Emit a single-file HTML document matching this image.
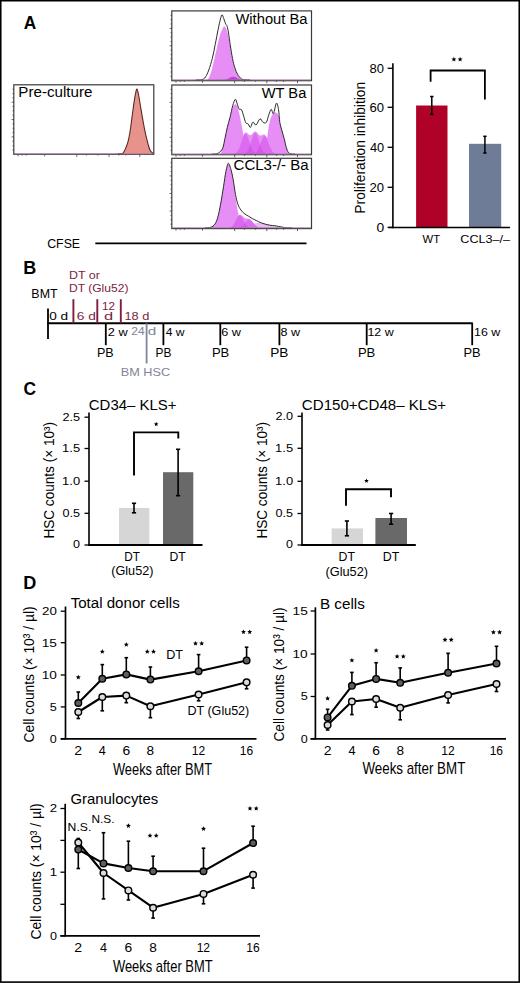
<!DOCTYPE html>
<html><head><meta charset="utf-8"><title>Figure</title>
<style>
html,body{margin:0;padding:0;background:#fff;}
body{width:520px;height:983px;overflow:hidden;}
svg{display:block;font-family:"Liberation Sans",sans-serif;}
</style></head>
<body>
<svg width="520" height="983" viewBox="0 0 520 983">
<rect x="0" y="0" width="520" height="983" fill="#fff"/>
<rect x="0.75" y="0.7" width="518.5" height="981.4" fill="none" stroke="#000" stroke-width="1.6"/>
<text x="23.67" y="29.00" font-size="18.02" textLength="12.49" lengthAdjust="spacingAndGlyphs" fill="#000" font-weight="bold">A</text>
<text x="23.29" y="273.70" font-size="18.31" textLength="13.03" lengthAdjust="spacingAndGlyphs" fill="#000" font-weight="bold">B</text>
<text x="23.48" y="394.60" font-size="19.19" textLength="12.59" lengthAdjust="spacingAndGlyphs" fill="#000" font-weight="bold">C</text>
<text x="23.19" y="588.60" font-size="19.19" textLength="13.07" lengthAdjust="spacingAndGlyphs" fill="#000" font-weight="bold">D</text>
<rect x="13.80" y="84.80" width="140.00" height="69.50" fill="none" stroke="#3a3a3a" stroke-width="1.2"/>
<line x1="12.50" y1="89.14" x2="13.80" y2="89.14" stroke="#3a3a3a" stroke-width="0.8"/>
<line x1="12.50" y1="93.49" x2="13.80" y2="93.49" stroke="#3a3a3a" stroke-width="0.8"/>
<line x1="12.50" y1="97.83" x2="13.80" y2="97.83" stroke="#3a3a3a" stroke-width="0.8"/>
<line x1="11.60" y1="102.17" x2="13.80" y2="102.17" stroke="#3a3a3a" stroke-width="0.8"/>
<line x1="12.50" y1="106.52" x2="13.80" y2="106.52" stroke="#3a3a3a" stroke-width="0.8"/>
<line x1="12.50" y1="110.86" x2="13.80" y2="110.86" stroke="#3a3a3a" stroke-width="0.8"/>
<line x1="12.50" y1="115.21" x2="13.80" y2="115.21" stroke="#3a3a3a" stroke-width="0.8"/>
<line x1="11.60" y1="119.55" x2="13.80" y2="119.55" stroke="#3a3a3a" stroke-width="0.8"/>
<line x1="12.50" y1="123.89" x2="13.80" y2="123.89" stroke="#3a3a3a" stroke-width="0.8"/>
<line x1="12.50" y1="128.24" x2="13.80" y2="128.24" stroke="#3a3a3a" stroke-width="0.8"/>
<line x1="12.50" y1="132.58" x2="13.80" y2="132.58" stroke="#3a3a3a" stroke-width="0.8"/>
<line x1="11.60" y1="136.93" x2="13.80" y2="136.93" stroke="#3a3a3a" stroke-width="0.8"/>
<line x1="12.50" y1="141.27" x2="13.80" y2="141.27" stroke="#3a3a3a" stroke-width="0.8"/>
<line x1="12.50" y1="145.61" x2="13.80" y2="145.61" stroke="#3a3a3a" stroke-width="0.8"/>
<line x1="12.50" y1="149.96" x2="13.80" y2="149.96" stroke="#3a3a3a" stroke-width="0.8"/>
<line x1="18.00" y1="154.30" x2="18.00" y2="156.30" stroke="#3a3a3a" stroke-width="0.8"/>
<line x1="22.20" y1="154.30" x2="22.20" y2="155.50" stroke="#3a3a3a" stroke-width="0.8"/>
<line x1="26.40" y1="154.30" x2="26.40" y2="155.50" stroke="#3a3a3a" stroke-width="0.8"/>
<line x1="44.60" y1="154.30" x2="44.60" y2="156.30" stroke="#3a3a3a" stroke-width="0.8"/>
<line x1="76.80" y1="154.30" x2="76.80" y2="156.80" stroke="#3a3a3a" stroke-width="0.8"/>
<line x1="109.00" y1="154.30" x2="109.00" y2="156.80" stroke="#3a3a3a" stroke-width="0.8"/>
<line x1="139.80" y1="154.30" x2="139.80" y2="156.80" stroke="#3a3a3a" stroke-width="0.8"/>
<line x1="97.80" y1="154.30" x2="97.80" y2="155.50" stroke="#3a3a3a" stroke-width="0.8"/>
<line x1="118.80" y1="154.30" x2="118.80" y2="155.50" stroke="#3a3a3a" stroke-width="0.8"/>
<line x1="125.80" y1="154.30" x2="125.80" y2="155.50" stroke="#3a3a3a" stroke-width="0.8"/>
<line x1="86.60" y1="154.30" x2="86.60" y2="155.50" stroke="#3a3a3a" stroke-width="0.8"/>
<text x="18.36" y="96.80" font-size="14.10" textLength="74.01" lengthAdjust="spacingAndGlyphs" fill="#000">Pre-culture</text>
<path d="M118.00,153.90 C118.50,153.87 120.15,153.83 121.00,153.70 C121.85,153.57 122.35,153.95 123.10,153.10 C123.85,152.25 124.70,150.42 125.50,148.60 C126.30,146.78 127.17,144.88 127.90,142.20 C128.63,139.52 129.28,136.15 129.90,132.50 C130.52,128.85 131.05,124.35 131.60,120.30 C132.15,116.25 132.67,111.97 133.20,108.20 C133.73,104.43 134.33,100.52 134.80,97.70 C135.27,94.88 135.63,92.75 136.00,91.30 C136.37,89.85 136.67,88.87 137.00,89.00 C137.33,89.13 137.63,90.52 138.00,92.10 C138.37,93.68 138.73,95.82 139.20,98.50 C139.67,101.18 140.18,104.57 140.80,108.20 C141.42,111.83 142.22,116.53 142.90,120.30 C143.58,124.07 144.23,127.57 144.90,130.80 C145.57,134.03 146.23,137.00 146.90,139.70 C147.57,142.40 148.30,145.12 148.90,147.00 C149.50,148.88 149.95,150.07 150.50,151.00 C151.05,151.93 151.73,152.12 152.20,152.60 C152.67,153.08 153.12,153.68 153.30,153.90" fill="#e8928c" stroke="none" stroke-width="0" stroke-linejoin="round"/>
<path d="M118.00,153.90 C118.50,153.87 120.15,153.83 121.00,153.70 C121.85,153.57 122.35,153.95 123.10,153.10 C123.85,152.25 124.70,150.42 125.50,148.60 C126.30,146.78 127.17,144.88 127.90,142.20 C128.63,139.52 129.28,136.15 129.90,132.50 C130.52,128.85 131.05,124.35 131.60,120.30 C132.15,116.25 132.67,111.97 133.20,108.20 C133.73,104.43 134.33,100.52 134.80,97.70 C135.27,94.88 135.63,92.75 136.00,91.30 C136.37,89.85 136.67,88.87 137.00,89.00 C137.33,89.13 137.63,90.52 138.00,92.10 C138.37,93.68 138.73,95.82 139.20,98.50 C139.67,101.18 140.18,104.57 140.80,108.20 C141.42,111.83 142.22,116.53 142.90,120.30 C143.58,124.07 144.23,127.57 144.90,130.80 C145.57,134.03 146.23,137.00 146.90,139.70 C147.57,142.40 148.30,145.12 148.90,147.00 C149.50,148.88 149.95,150.07 150.50,151.00 C151.05,151.93 151.73,152.12 152.20,152.60 C152.67,153.08 153.12,153.68 153.30,153.90" fill="none" stroke="#5a2a22" stroke-width="1.1" stroke-linejoin="round"/>
<line x1="14.30" y1="153.90" x2="153.30" y2="153.90" stroke="#a070a0" stroke-width="0.9"/>
<rect x="171.80" y="10.90" width="139.70" height="69.80" fill="none" stroke="#3a3a3a" stroke-width="1.2"/>
<line x1="170.50" y1="15.26" x2="171.80" y2="15.26" stroke="#3a3a3a" stroke-width="0.8"/>
<line x1="170.50" y1="19.62" x2="171.80" y2="19.62" stroke="#3a3a3a" stroke-width="0.8"/>
<line x1="170.50" y1="23.99" x2="171.80" y2="23.99" stroke="#3a3a3a" stroke-width="0.8"/>
<line x1="169.60" y1="28.35" x2="171.80" y2="28.35" stroke="#3a3a3a" stroke-width="0.8"/>
<line x1="170.50" y1="32.71" x2="171.80" y2="32.71" stroke="#3a3a3a" stroke-width="0.8"/>
<line x1="170.50" y1="37.07" x2="171.80" y2="37.07" stroke="#3a3a3a" stroke-width="0.8"/>
<line x1="170.50" y1="41.44" x2="171.80" y2="41.44" stroke="#3a3a3a" stroke-width="0.8"/>
<line x1="169.60" y1="45.80" x2="171.80" y2="45.80" stroke="#3a3a3a" stroke-width="0.8"/>
<line x1="170.50" y1="50.16" x2="171.80" y2="50.16" stroke="#3a3a3a" stroke-width="0.8"/>
<line x1="170.50" y1="54.52" x2="171.80" y2="54.52" stroke="#3a3a3a" stroke-width="0.8"/>
<line x1="170.50" y1="58.89" x2="171.80" y2="58.89" stroke="#3a3a3a" stroke-width="0.8"/>
<line x1="169.60" y1="63.25" x2="171.80" y2="63.25" stroke="#3a3a3a" stroke-width="0.8"/>
<line x1="170.50" y1="67.61" x2="171.80" y2="67.61" stroke="#3a3a3a" stroke-width="0.8"/>
<line x1="170.50" y1="71.97" x2="171.80" y2="71.97" stroke="#3a3a3a" stroke-width="0.8"/>
<line x1="170.50" y1="76.34" x2="171.80" y2="76.34" stroke="#3a3a3a" stroke-width="0.8"/>
<line x1="175.99" y1="80.70" x2="175.99" y2="82.70" stroke="#3a3a3a" stroke-width="0.8"/>
<line x1="180.18" y1="80.70" x2="180.18" y2="81.90" stroke="#3a3a3a" stroke-width="0.8"/>
<line x1="184.37" y1="80.70" x2="184.37" y2="81.90" stroke="#3a3a3a" stroke-width="0.8"/>
<line x1="202.53" y1="80.70" x2="202.53" y2="82.70" stroke="#3a3a3a" stroke-width="0.8"/>
<line x1="234.67" y1="80.70" x2="234.67" y2="83.20" stroke="#3a3a3a" stroke-width="0.8"/>
<line x1="266.80" y1="80.70" x2="266.80" y2="83.20" stroke="#3a3a3a" stroke-width="0.8"/>
<line x1="297.53" y1="80.70" x2="297.53" y2="83.20" stroke="#3a3a3a" stroke-width="0.8"/>
<line x1="255.62" y1="80.70" x2="255.62" y2="81.90" stroke="#3a3a3a" stroke-width="0.8"/>
<line x1="276.57" y1="80.70" x2="276.57" y2="81.90" stroke="#3a3a3a" stroke-width="0.8"/>
<line x1="283.56" y1="80.70" x2="283.56" y2="81.90" stroke="#3a3a3a" stroke-width="0.8"/>
<line x1="244.44" y1="80.70" x2="244.44" y2="81.90" stroke="#3a3a3a" stroke-width="0.8"/>
<path d="M205.00,79.90 C205.45,79.85 206.87,80.42 207.70,79.60 C208.53,78.78 209.23,76.98 210.00,75.00 C210.77,73.02 211.25,71.80 212.30,67.70 C213.35,63.60 215.05,55.78 216.30,50.40 C217.55,45.02 218.73,39.05 219.80,35.40 C220.87,31.75 221.98,30.03 222.70,28.50 C223.42,26.97 223.48,26.05 224.10,26.20 C224.72,26.35 225.58,27.30 226.40,29.40 C227.22,31.50 228.17,34.73 229.00,38.80 C229.83,42.87 230.47,48.98 231.40,53.80 C232.33,58.62 233.52,64.08 234.60,67.70 C235.68,71.32 236.80,73.57 237.90,75.50 C239.00,77.43 240.18,78.57 241.20,79.30 C242.22,80.03 243.53,79.80 244.00,79.90" fill="rgb(231,142,246)" stroke="none" stroke-width="0" stroke-linejoin="round"/>
<path d="M222.00,79.90 L222.00,79.88 L222.50,79.86 L223.00,79.85 L223.50,79.82 L224.00,79.78 L224.50,79.73 L225.00,79.67 L225.50,79.58 L226.00,79.47 L226.50,79.33 L227.00,79.16 L227.50,78.97 L228.00,78.75 L228.50,78.50 L229.00,78.23 L229.50,77.96 L230.00,77.68 L230.50,77.42 L231.00,77.18 L231.50,76.98 L232.00,76.83 L232.50,76.73 L233.00,76.70 L233.50,76.72 L234.00,76.80 L234.50,76.92 L235.00,77.08 L235.50,77.27 L236.00,77.48 L236.50,77.72 L237.00,77.96 L237.50,78.20 L238.00,78.43 L238.50,78.66 L239.00,78.86 L239.50,79.05 L240.00,79.21 L240.50,79.35 L241.00,79.47 L241.50,79.57 L242.00,79.65 L242.50,79.71 L243.00,79.76 L243.50,79.80 L244.00,79.83 L244.50,79.85 L245.00,79.86 L245.50,79.88 L246.00,79.88 L246.50,79.89 L247.00,79.89 L247.50,79.90 L248.00,79.90 L248.00,79.90 Z" fill="rgba(170,40,200,0.7)" stroke="none" stroke-width="0"/>
<path d="M196.00,79.90 C197.00,79.85 200.42,80.08 202.00,79.60 C203.58,79.12 204.37,78.60 205.50,77.00 C206.63,75.40 207.67,73.08 208.80,70.00 C209.93,66.92 211.23,62.73 212.30,58.50 C213.37,54.27 214.23,49.42 215.20,44.60 C216.17,39.78 217.23,33.83 218.10,29.60 C218.97,25.37 219.73,21.67 220.40,19.20 C221.07,16.73 221.53,14.88 222.10,14.80 C222.67,14.72 223.22,17.20 223.80,18.70 C224.38,20.20 225.05,22.55 225.60,23.80 C226.15,25.05 226.62,24.67 227.10,26.20 C227.58,27.73 227.98,29.93 228.50,33.00 C229.02,36.07 229.53,40.35 230.20,44.60 C230.87,48.85 231.73,54.65 232.50,58.50 C233.27,62.35 233.93,65.02 234.80,67.70 C235.67,70.38 236.63,72.77 237.70,74.60 C238.77,76.43 240.05,77.85 241.20,78.70 C242.35,79.55 243.13,79.50 244.60,79.70 C246.07,79.90 249.10,79.87 250.00,79.90" fill="none" stroke="#2a2a2a" stroke-width="1.0" stroke-linejoin="round"/>
<line x1="172.30" y1="79.90" x2="311.00" y2="79.90" stroke="#a070a0" stroke-width="0.9"/>
<text x="235.44" y="23.50" font-size="14.24" textLength="72.06" lengthAdjust="spacingAndGlyphs" fill="#000">Without Ba</text>
<rect x="171.80" y="85.00" width="139.70" height="69.70" fill="none" stroke="#3a3a3a" stroke-width="1.2"/>
<line x1="170.50" y1="89.36" x2="171.80" y2="89.36" stroke="#3a3a3a" stroke-width="0.8"/>
<line x1="170.50" y1="93.71" x2="171.80" y2="93.71" stroke="#3a3a3a" stroke-width="0.8"/>
<line x1="170.50" y1="98.07" x2="171.80" y2="98.07" stroke="#3a3a3a" stroke-width="0.8"/>
<line x1="169.60" y1="102.42" x2="171.80" y2="102.42" stroke="#3a3a3a" stroke-width="0.8"/>
<line x1="170.50" y1="106.78" x2="171.80" y2="106.78" stroke="#3a3a3a" stroke-width="0.8"/>
<line x1="170.50" y1="111.14" x2="171.80" y2="111.14" stroke="#3a3a3a" stroke-width="0.8"/>
<line x1="170.50" y1="115.49" x2="171.80" y2="115.49" stroke="#3a3a3a" stroke-width="0.8"/>
<line x1="169.60" y1="119.85" x2="171.80" y2="119.85" stroke="#3a3a3a" stroke-width="0.8"/>
<line x1="170.50" y1="124.21" x2="171.80" y2="124.21" stroke="#3a3a3a" stroke-width="0.8"/>
<line x1="170.50" y1="128.56" x2="171.80" y2="128.56" stroke="#3a3a3a" stroke-width="0.8"/>
<line x1="170.50" y1="132.92" x2="171.80" y2="132.92" stroke="#3a3a3a" stroke-width="0.8"/>
<line x1="169.60" y1="137.27" x2="171.80" y2="137.27" stroke="#3a3a3a" stroke-width="0.8"/>
<line x1="170.50" y1="141.63" x2="171.80" y2="141.63" stroke="#3a3a3a" stroke-width="0.8"/>
<line x1="170.50" y1="145.99" x2="171.80" y2="145.99" stroke="#3a3a3a" stroke-width="0.8"/>
<line x1="170.50" y1="150.34" x2="171.80" y2="150.34" stroke="#3a3a3a" stroke-width="0.8"/>
<line x1="175.99" y1="154.70" x2="175.99" y2="156.70" stroke="#3a3a3a" stroke-width="0.8"/>
<line x1="180.18" y1="154.70" x2="180.18" y2="155.90" stroke="#3a3a3a" stroke-width="0.8"/>
<line x1="184.37" y1="154.70" x2="184.37" y2="155.90" stroke="#3a3a3a" stroke-width="0.8"/>
<line x1="202.53" y1="154.70" x2="202.53" y2="156.70" stroke="#3a3a3a" stroke-width="0.8"/>
<line x1="234.67" y1="154.70" x2="234.67" y2="157.20" stroke="#3a3a3a" stroke-width="0.8"/>
<line x1="266.80" y1="154.70" x2="266.80" y2="157.20" stroke="#3a3a3a" stroke-width="0.8"/>
<line x1="297.53" y1="154.70" x2="297.53" y2="157.20" stroke="#3a3a3a" stroke-width="0.8"/>
<line x1="255.62" y1="154.70" x2="255.62" y2="155.90" stroke="#3a3a3a" stroke-width="0.8"/>
<line x1="276.57" y1="154.70" x2="276.57" y2="155.90" stroke="#3a3a3a" stroke-width="0.8"/>
<line x1="283.56" y1="154.70" x2="283.56" y2="155.90" stroke="#3a3a3a" stroke-width="0.8"/>
<line x1="244.44" y1="154.70" x2="244.44" y2="155.90" stroke="#3a3a3a" stroke-width="0.8"/>
<path d="M233.00,154.00 L233.00,153.87 L233.50,153.80 L234.00,153.71 L234.50,153.59 L235.00,153.41 L235.50,153.18 L236.00,152.88 L236.50,152.48 L237.00,151.98 L237.50,151.36 L238.00,150.61 L238.50,149.71 L239.00,148.66 L239.50,147.47 L240.00,146.13 L240.50,144.67 L241.00,143.12 L241.50,141.52 L242.00,139.91 L242.50,138.35 L243.00,136.88 L243.50,135.56 L244.00,134.44 L244.50,133.56 L245.00,132.93 L245.50,132.56 L246.00,132.45 L246.50,132.57 L247.00,132.87 L247.50,133.30 L248.00,133.80 L248.50,134.29 L249.00,134.73 L249.50,135.05 L250.00,135.21 L250.50,135.20 L251.00,135.00 L251.50,134.65 L252.00,134.16 L252.50,133.59 L253.00,132.99 L253.50,132.42 L254.00,131.94 L254.50,131.59 L255.00,131.41 L255.50,131.42 L256.00,131.61 L256.50,131.97 L257.00,132.46 L257.50,133.04 L258.00,133.65 L258.50,134.24 L259.00,134.76 L259.50,135.16 L260.00,135.42 L260.50,135.54 L261.00,135.51 L261.50,135.36 L262.00,135.13 L262.50,134.87 L263.00,134.63 L263.50,134.48 L264.00,134.46 L264.50,134.61 L265.00,134.97 L265.50,135.54 L266.00,136.33 L266.50,137.33 L267.00,138.49 L267.50,139.79 L268.00,141.18 L268.50,142.62 L269.00,144.05 L269.50,145.44 L270.00,146.76 L270.50,147.97 L271.00,149.06 L271.50,150.02 L272.00,150.84 L272.50,151.54 L273.00,152.11 L273.50,152.57 L274.00,152.94 L274.50,153.23 L275.00,153.44 L275.50,153.61 L276.00,153.73 L276.50,153.81 L277.00,153.87 L277.50,153.92 L278.00,153.95 L278.00,154.00 Z" fill="rgb(231,142,246)" stroke="none" stroke-width="0"/>
<path d="M219.00,154.00 C219.37,153.80 220.20,155.43 221.20,152.80 C222.20,150.17 223.98,142.43 225.00,138.20 C226.02,133.97 226.47,130.87 227.30,127.40 C228.13,123.93 229.10,120.72 230.00,117.40 C230.90,114.08 231.80,109.68 232.70,107.50 C233.60,105.32 234.60,104.38 235.40,104.30 C236.20,104.22 236.80,105.22 237.50,107.00 C238.20,108.78 238.87,111.73 239.60,115.00 C240.33,118.27 241.13,122.73 241.90,126.60 C242.67,130.47 243.30,134.73 244.20,138.20 C245.10,141.67 246.13,144.88 247.30,147.40 C248.47,149.92 250.25,152.20 251.20,153.30 C252.15,154.40 252.70,153.88 253.00,154.00" fill="rgb(231,142,246)" stroke="none" stroke-width="0" stroke-linejoin="round"/>
<path d="M262.00,154.00 C262.42,153.77 263.70,154.93 264.50,152.60 C265.30,150.27 266.13,144.10 266.80,140.00 C267.47,135.90 267.93,131.33 268.50,128.00 C269.07,124.67 269.62,122.17 270.20,120.00 C270.78,117.83 271.28,116.20 272.00,115.00 C272.72,113.80 273.83,113.20 274.50,112.80 C275.17,112.40 275.33,112.23 276.00,112.60 C276.67,112.97 277.87,113.38 278.50,115.00 C279.13,116.62 279.22,119.65 279.80,122.30 C280.38,124.95 281.27,128.17 282.00,130.90 C282.73,133.63 283.48,135.95 284.20,138.70 C284.92,141.45 285.58,145.08 286.30,147.40 C287.02,149.72 287.72,151.50 288.50,152.60 C289.28,153.70 290.58,153.77 291.00,154.00" fill="rgb(231,142,246)" stroke="none" stroke-width="0" stroke-linejoin="round"/>
<path d="M233.40,154.00 L233.40,153.82 L233.90,153.73 L234.40,153.62 L234.90,153.45 L235.40,153.23 L235.90,152.94 L236.40,152.57 L236.90,152.09 L237.40,151.50 L237.90,150.77 L238.40,149.91 L238.90,148.89 L239.40,147.72 L239.90,146.42 L240.40,144.99 L240.90,143.46 L241.40,141.88 L241.90,140.30 L242.40,138.75 L242.90,137.31 L243.40,136.03 L243.90,134.96 L244.40,134.16 L244.90,133.67 L245.40,133.50 L245.90,133.67 L246.40,134.16 L246.90,134.96 L247.40,136.03 L247.90,137.31 L248.40,138.75 L248.90,140.30 L249.40,141.88 L249.90,143.46 L250.40,144.99 L250.90,146.42 L251.40,147.72 L251.90,148.89 L252.40,149.91 L252.90,150.77 L253.40,151.50 L253.90,152.09 L254.40,152.57 L254.90,152.94 L255.40,153.23 L255.90,153.45 L256.40,153.62 L256.90,153.73 L257.40,153.82 L257.40,154.00 Z" fill="rgba(205,60,230,0.42)" stroke="none" stroke-width="0"/>
<path d="M243.20,154.00 L243.20,153.82 L243.70,153.73 L244.20,153.61 L244.70,153.45 L245.20,153.22 L245.70,152.93 L246.20,152.55 L246.70,152.07 L247.20,151.46 L247.70,150.73 L248.20,149.85 L248.70,148.81 L249.20,147.63 L249.70,146.31 L250.20,144.86 L250.70,143.31 L251.20,141.71 L251.70,140.09 L252.20,138.53 L252.70,137.06 L253.20,135.76 L253.70,134.68 L254.20,133.87 L254.70,133.37 L255.20,133.20 L255.70,133.37 L256.20,133.87 L256.70,134.68 L257.20,135.76 L257.70,137.06 L258.20,138.53 L258.70,140.09 L259.20,141.71 L259.70,143.31 L260.20,144.86 L260.70,146.31 L261.20,147.63 L261.70,148.81 L262.20,149.85 L262.70,150.73 L263.20,151.46 L263.70,152.07 L264.20,152.55 L264.70,152.93 L265.20,153.22 L265.70,153.45 L266.20,153.61 L266.70,153.73 L267.20,153.82 L267.20,154.00 Z" fill="rgba(205,60,230,0.42)" stroke="none" stroke-width="0"/>
<path d="M252.70,154.00 L252.70,153.84 L253.20,153.76 L253.70,153.66 L254.20,153.51 L254.70,153.32 L255.20,153.06 L255.70,152.73 L256.20,152.31 L256.70,151.78 L257.20,151.14 L257.70,150.36 L258.20,149.46 L258.70,148.43 L259.20,147.27 L259.70,146.00 L260.20,144.65 L260.70,143.24 L261.20,141.83 L261.70,140.46 L262.20,139.18 L262.70,138.04 L263.20,137.10 L263.70,136.39 L264.20,135.95 L264.70,135.80 L265.20,135.95 L265.70,136.39 L266.20,137.10 L266.70,138.04 L267.20,139.18 L267.70,140.46 L268.20,141.83 L268.70,143.24 L269.20,144.65 L269.70,146.00 L270.20,147.27 L270.70,148.43 L271.20,149.46 L271.70,150.36 L272.20,151.14 L272.70,151.78 L273.20,152.31 L273.70,152.73 L274.20,153.06 L274.70,153.32 L275.20,153.51 L275.70,153.66 L276.20,153.76 L276.70,153.84 L276.70,154.00 Z" fill="rgba(205,60,230,0.42)" stroke="none" stroke-width="0"/>
<path d="M212.00,154.00 C212.50,154.00 213.87,154.20 215.00,154.00 C216.13,153.80 217.52,153.77 218.80,152.80 C220.08,151.83 221.67,150.63 222.70,148.20 C223.73,145.77 224.23,141.67 225.00,138.20 C225.77,134.73 226.47,130.87 227.30,127.40 C228.13,123.93 229.10,121.00 230.00,117.40 C230.90,113.80 231.80,108.82 232.70,105.80 C233.60,102.78 234.63,99.55 235.40,99.30 C236.17,99.05 236.67,102.63 237.30,104.30 C237.93,105.97 238.50,108.40 239.20,109.30 C239.90,110.20 240.73,108.48 241.50,109.70 C242.27,110.92 243.08,114.42 243.80,116.60 C244.52,118.78 245.08,121.58 245.80,122.80 C246.52,124.02 247.33,123.13 248.10,123.90 C248.87,124.67 249.70,127.58 250.40,127.40 C251.10,127.22 251.78,123.65 252.30,122.80 C252.82,121.95 252.87,121.95 253.50,122.30 C254.13,122.65 255.02,125.48 256.10,124.90 C257.18,124.32 258.85,119.23 260.00,118.80 C261.15,118.37 261.93,121.72 263.00,122.30 C264.07,122.88 265.47,123.45 266.40,122.30 C267.33,121.15 267.80,117.57 268.60,115.40 C269.40,113.23 270.40,109.60 271.20,109.30 C272.00,109.00 272.53,114.62 273.40,113.60 C274.27,112.58 275.55,103.92 276.40,103.20 C277.25,102.48 277.93,106.12 278.50,109.30 C279.07,112.48 279.22,118.70 279.80,122.30 C280.38,125.90 281.27,128.17 282.00,130.90 C282.73,133.63 283.48,135.95 284.20,138.70 C284.92,141.45 285.58,145.08 286.30,147.40 C287.02,149.72 287.63,151.52 288.50,152.60 C289.37,153.68 290.42,153.67 291.50,153.90 C292.58,154.13 294.42,153.98 295.00,154.00" fill="none" stroke="#2a2a2a" stroke-width="1.0" stroke-linejoin="round"/>
<line x1="172.30" y1="154.00" x2="311.00" y2="154.00" stroke="#a070a0" stroke-width="0.9"/>
<text x="261.74" y="98.20" font-size="14.39" textLength="44.56" lengthAdjust="spacingAndGlyphs" fill="#000">WT Ba</text>
<rect x="171.80" y="158.30" width="139.70" height="70.30" fill="none" stroke="#3a3a3a" stroke-width="1.2"/>
<line x1="170.50" y1="162.69" x2="171.80" y2="162.69" stroke="#3a3a3a" stroke-width="0.8"/>
<line x1="170.50" y1="167.09" x2="171.80" y2="167.09" stroke="#3a3a3a" stroke-width="0.8"/>
<line x1="170.50" y1="171.48" x2="171.80" y2="171.48" stroke="#3a3a3a" stroke-width="0.8"/>
<line x1="169.60" y1="175.88" x2="171.80" y2="175.88" stroke="#3a3a3a" stroke-width="0.8"/>
<line x1="170.50" y1="180.27" x2="171.80" y2="180.27" stroke="#3a3a3a" stroke-width="0.8"/>
<line x1="170.50" y1="184.66" x2="171.80" y2="184.66" stroke="#3a3a3a" stroke-width="0.8"/>
<line x1="170.50" y1="189.06" x2="171.80" y2="189.06" stroke="#3a3a3a" stroke-width="0.8"/>
<line x1="169.60" y1="193.45" x2="171.80" y2="193.45" stroke="#3a3a3a" stroke-width="0.8"/>
<line x1="170.50" y1="197.84" x2="171.80" y2="197.84" stroke="#3a3a3a" stroke-width="0.8"/>
<line x1="170.50" y1="202.24" x2="171.80" y2="202.24" stroke="#3a3a3a" stroke-width="0.8"/>
<line x1="170.50" y1="206.63" x2="171.80" y2="206.63" stroke="#3a3a3a" stroke-width="0.8"/>
<line x1="169.60" y1="211.03" x2="171.80" y2="211.03" stroke="#3a3a3a" stroke-width="0.8"/>
<line x1="170.50" y1="215.42" x2="171.80" y2="215.42" stroke="#3a3a3a" stroke-width="0.8"/>
<line x1="170.50" y1="219.81" x2="171.80" y2="219.81" stroke="#3a3a3a" stroke-width="0.8"/>
<line x1="170.50" y1="224.21" x2="171.80" y2="224.21" stroke="#3a3a3a" stroke-width="0.8"/>
<line x1="175.99" y1="228.60" x2="175.99" y2="230.60" stroke="#3a3a3a" stroke-width="0.8"/>
<line x1="180.18" y1="228.60" x2="180.18" y2="229.80" stroke="#3a3a3a" stroke-width="0.8"/>
<line x1="184.37" y1="228.60" x2="184.37" y2="229.80" stroke="#3a3a3a" stroke-width="0.8"/>
<line x1="202.53" y1="228.60" x2="202.53" y2="230.60" stroke="#3a3a3a" stroke-width="0.8"/>
<line x1="234.67" y1="228.60" x2="234.67" y2="231.10" stroke="#3a3a3a" stroke-width="0.8"/>
<line x1="266.80" y1="228.60" x2="266.80" y2="231.10" stroke="#3a3a3a" stroke-width="0.8"/>
<line x1="297.53" y1="228.60" x2="297.53" y2="231.10" stroke="#3a3a3a" stroke-width="0.8"/>
<line x1="255.62" y1="228.60" x2="255.62" y2="229.80" stroke="#3a3a3a" stroke-width="0.8"/>
<line x1="276.57" y1="228.60" x2="276.57" y2="229.80" stroke="#3a3a3a" stroke-width="0.8"/>
<line x1="283.56" y1="228.60" x2="283.56" y2="229.80" stroke="#3a3a3a" stroke-width="0.8"/>
<line x1="244.44" y1="228.60" x2="244.44" y2="229.80" stroke="#3a3a3a" stroke-width="0.8"/>
<path d="M209.00,227.80 C209.33,227.70 210.03,227.78 211.00,227.20 C211.97,226.62 213.68,225.90 214.80,224.30 C215.92,222.70 216.73,220.95 217.70,217.60 C218.67,214.25 219.63,209.33 220.60,204.20 C221.57,199.07 222.62,192.25 223.50,186.80 C224.38,181.35 225.10,175.33 225.90,171.50 C226.70,167.67 227.50,164.23 228.30,163.80 C229.10,163.37 229.90,166.28 230.70,168.90 C231.50,171.52 232.30,174.90 233.10,179.50 C233.90,184.10 234.70,191.12 235.50,196.50 C236.30,201.88 237.02,207.32 237.90,211.80 C238.78,216.28 240.00,220.83 240.80,223.40 C241.60,225.97 242.17,226.47 242.70,227.20 C243.23,227.93 243.78,227.70 244.00,227.80" fill="rgb(231,142,246)" stroke="none" stroke-width="0" stroke-linejoin="round"/>
<path d="M229.00,227.80 L229.00,227.58 L229.50,227.48 L230.00,227.35 L230.50,227.17 L231.00,226.94 L231.50,226.64 L232.00,226.27 L232.50,225.81 L233.00,225.26 L233.50,224.61 L234.00,223.87 L234.50,223.03 L235.00,222.12 L235.50,221.14 L236.00,220.13 L236.50,219.12 L237.00,218.14 L237.50,217.22 L238.00,216.41 L238.50,215.73 L239.00,215.22 L239.50,214.87 L240.00,214.72 L240.50,214.73 L241.00,214.91 L241.50,215.22 L242.00,215.62 L242.50,216.09 L243.00,216.58 L243.50,217.04 L244.00,217.47 L244.50,217.82 L245.00,218.09 L245.50,218.28 L246.00,218.39 L246.50,218.45 L247.00,218.48 L247.50,218.50 L248.00,218.55 L248.50,218.65 L249.00,218.83 L249.50,219.07 L250.00,219.39 L250.50,219.77 L251.00,220.23 L251.50,220.74 L252.00,221.30 L252.50,221.89 L253.00,222.50 L253.50,223.11 L254.00,223.70 L254.50,224.27 L255.00,224.80 L255.50,225.29 L256.00,225.73 L256.50,226.11 L257.00,226.45 L257.50,226.73 L258.00,226.96 L258.50,227.16 L259.00,227.31 L259.50,227.44 L260.00,227.53 L260.50,227.60 L261.00,227.66 L261.50,227.70 L262.00,227.73 L262.00,227.80 Z" fill="rgb(231,142,246)" stroke="none" stroke-width="0"/>
<path d="M229.00,227.80 L229.00,227.58 L229.50,227.48 L230.00,227.35 L230.50,227.17 L231.00,226.94 L231.50,226.64 L232.00,226.27 L232.50,225.81 L233.00,225.26 L233.50,224.61 L234.00,223.87 L234.50,223.04 L235.00,222.13 L235.50,221.16 L236.00,220.16 L236.50,219.16 L237.00,218.20 L237.50,217.31 L238.00,216.54 L238.50,215.92 L239.00,215.48 L239.50,215.24 L240.00,215.22 L240.50,215.41 L241.00,215.81 L241.50,216.40 L242.00,217.14 L242.50,218.01 L243.00,218.96 L243.50,219.96 L244.00,220.96 L244.50,221.94 L245.00,222.86 L245.50,223.71 L246.00,224.47 L246.50,225.14 L247.00,225.71 L247.50,226.18 L248.00,226.57 L248.50,226.88 L249.00,227.13 L249.50,227.32 L250.00,227.46 L250.50,227.56 L251.00,227.64 L251.50,227.69 L252.00,227.73 L252.00,227.80 Z" fill="rgba(205,60,230,0.45)" stroke="none" stroke-width="0"/>
<path d="M238.00,227.80 L238.00,227.67 L238.50,227.62 L239.00,227.54 L239.50,227.44 L240.00,227.30 L240.50,227.12 L241.00,226.89 L241.50,226.62 L242.00,226.28 L242.50,225.88 L243.00,225.41 L243.50,224.89 L244.00,224.31 L244.50,223.68 L245.00,223.03 L245.50,222.37 L246.00,221.72 L246.50,221.12 L247.00,220.57 L247.50,220.12 L248.00,219.78 L248.50,219.57 L249.00,219.50 L249.50,219.56 L250.00,219.73 L250.50,220.01 L251.00,220.39 L251.50,220.85 L252.00,221.37 L252.50,221.93 L253.00,222.53 L253.50,223.12 L254.00,223.71 L254.50,224.28 L255.00,224.81 L255.50,225.29 L256.00,225.73 L256.50,226.11 L257.00,226.45 L257.50,226.73 L258.00,226.96 L258.50,227.16 L259.00,227.31 L259.50,227.44 L260.00,227.53 L260.50,227.60 L261.00,227.66 L261.50,227.70 L262.00,227.73 L262.00,227.80 Z" fill="rgba(205,60,230,0.4)" stroke="none" stroke-width="0"/>
<path d="M244.00,227.80 L244.00,227.47 L244.50,227.40 L245.00,227.32 L245.50,227.23 L246.00,227.12 L246.50,227.00 L247.00,226.87 L247.50,226.72 L248.00,226.55 L248.50,226.37 L249.00,226.18 L249.50,225.97 L250.00,225.74 L250.50,225.51 L251.00,225.27 L251.50,225.02 L252.00,224.77 L252.50,224.52 L253.00,224.27 L253.50,224.03 L254.00,223.80 L254.50,223.58 L255.00,223.39 L255.50,223.22 L256.00,223.07 L256.50,222.95 L257.00,222.87 L257.50,222.82 L258.00,222.80 L258.50,222.81 L259.00,222.82 L259.50,222.86 L260.00,222.90 L260.50,222.95 L261.00,223.02 L261.50,223.10 L262.00,223.18 L262.50,223.28 L263.00,223.39 L263.50,223.50 L264.00,223.62 L264.50,223.75 L265.00,223.89 L265.50,224.03 L266.00,224.17 L266.50,224.32 L267.00,224.47 L267.50,224.62 L268.00,224.77 L268.50,224.92 L269.00,225.07 L269.50,225.22 L270.00,225.37 L270.50,225.51 L271.00,225.65 L271.50,225.79 L272.00,225.92 L272.50,226.05 L273.00,226.18 L273.50,226.30 L274.00,226.41 L274.50,226.52 L275.00,226.62 L275.50,226.72 L276.00,226.81 L276.50,226.90 L277.00,226.98 L277.50,227.05 L278.00,227.12 L278.50,227.19 L279.00,227.25 L279.50,227.30 L280.00,227.36 L280.50,227.40 L281.00,227.44 L281.50,227.48 L282.00,227.52 L282.50,227.55 L283.00,227.58 L283.50,227.61 L284.00,227.63 L284.50,227.65 L285.00,227.67 L285.50,227.69 L286.00,227.70 L286.50,227.71 L287.00,227.73 L287.50,227.74 L288.00,227.74 L288.50,227.75 L289.00,227.76 L289.50,227.76 L290.00,227.77 L290.00,227.80 Z" fill="rgba(216,120,236,0.5)" stroke="none" stroke-width="0"/>
<path d="M205.00,227.80 C206.00,227.70 209.37,227.78 211.00,227.20 C212.63,226.62 213.68,225.90 214.80,224.30 C215.92,222.70 216.73,220.95 217.70,217.60 C218.67,214.25 219.63,209.33 220.60,204.20 C221.57,199.07 222.62,192.25 223.50,186.80 C224.38,181.35 225.10,175.42 225.90,171.50 C226.70,167.58 227.50,163.78 228.30,163.30 C229.10,162.82 229.90,165.95 230.70,168.60 C231.50,171.25 232.30,174.88 233.10,179.20 C233.90,183.52 234.70,190.33 235.50,194.50 C236.30,198.67 237.02,201.63 237.90,204.20 C238.78,206.77 239.68,208.30 240.80,209.90 C241.92,211.50 243.32,212.75 244.60,213.80 C245.88,214.85 247.22,215.40 248.50,216.20 C249.78,217.00 251.02,217.88 252.30,218.60 C253.58,219.32 254.67,219.77 256.20,220.50 C257.73,221.23 259.33,222.23 261.50,223.00 C263.67,223.77 266.95,224.63 269.20,225.10 C271.45,225.57 272.92,225.48 275.00,225.80 C277.08,226.12 279.78,226.67 281.70,227.00 C283.62,227.33 284.78,227.67 286.50,227.80 C288.22,227.93 291.08,227.80 292.00,227.80" fill="none" stroke="#2a2a2a" stroke-width="1.0" stroke-linejoin="round"/>
<line x1="172.30" y1="227.80" x2="311.00" y2="227.80" stroke="#a070a0" stroke-width="0.9"/>
<text x="233.54" y="169.70" font-size="13.81" textLength="75.16" lengthAdjust="spacingAndGlyphs" fill="#000">CCL3-/- Ba</text>
<text x="47.17" y="247.70" font-size="12.79" textLength="32.96" lengthAdjust="spacingAndGlyphs" fill="#000">CFSE</text>
<line x1="95.30" y1="243.40" x2="306.50" y2="243.40" stroke="#000" stroke-width="1.7"/>
<line x1="387.60" y1="227.40" x2="392.90" y2="227.40" stroke="#000" stroke-width="1.3"/>
<text x="376.46" y="231.80" font-size="12.79" textLength="7.68" lengthAdjust="spacingAndGlyphs" fill="#000">0</text>
<line x1="387.60" y1="187.30" x2="392.90" y2="187.30" stroke="#000" stroke-width="1.3"/>
<text x="369.54" y="191.70" font-size="12.79" textLength="14.57" lengthAdjust="spacingAndGlyphs" fill="#000">20</text>
<line x1="387.60" y1="147.30" x2="392.90" y2="147.30" stroke="#000" stroke-width="1.3"/>
<text x="369.91" y="151.70" font-size="12.79" textLength="14.19" lengthAdjust="spacingAndGlyphs" fill="#000">40</text>
<line x1="387.60" y1="107.30" x2="392.90" y2="107.30" stroke="#000" stroke-width="1.3"/>
<text x="369.53" y="111.70" font-size="12.79" textLength="14.58" lengthAdjust="spacingAndGlyphs" fill="#000">60</text>
<line x1="387.60" y1="68.30" x2="392.90" y2="68.30" stroke="#000" stroke-width="1.3"/>
<text x="369.63" y="72.70" font-size="12.79" textLength="14.47" lengthAdjust="spacingAndGlyphs" fill="#000">80</text>
<rect x="416.10" y="105.50" width="31.40" height="121.80" fill="#b00228"/>
<rect x="469.00" y="143.80" width="32.20" height="83.50" fill="#6e7c98"/>
<line x1="392.90" y1="63.20" x2="392.90" y2="228.20" stroke="#000" stroke-width="1.6"/>
<line x1="388.50" y1="227.50" x2="510.00" y2="227.50" stroke="#000" stroke-width="1.7"/>
<line x1="431.80" y1="96.50" x2="431.80" y2="114.40" stroke="#000" stroke-width="1.5"/>
<line x1="430.10" y1="96.50" x2="433.50" y2="96.50" stroke="#000" stroke-width="1.5"/>
<line x1="430.10" y1="114.40" x2="433.50" y2="114.40" stroke="#000" stroke-width="1.5"/>
<line x1="484.90" y1="136.30" x2="484.90" y2="153.00" stroke="#000" stroke-width="1.5"/>
<line x1="483.20" y1="136.30" x2="486.60" y2="136.30" stroke="#000" stroke-width="1.5"/>
<line x1="483.20" y1="153.00" x2="486.60" y2="153.00" stroke="#000" stroke-width="1.5"/>
<polyline points="430.60,81.70 430.60,70.50 484.90,70.50 484.90,99.50" stroke="#000" stroke-width="1.8" fill="none" />
<polygon points="453.90,56.80 454.59,58.45 456.37,58.60 455.01,59.76 455.43,61.50 453.90,60.57 452.37,61.50 452.79,59.76 451.43,58.60 453.21,58.45" fill="#000"/>
<polygon points="460.10,56.80 460.79,58.45 462.57,58.60 461.21,59.76 461.63,61.50 460.10,60.57 458.57,61.50 458.99,59.76 457.63,58.60 459.41,58.45" fill="#000"/>
<text x="422.55" y="242.90" font-size="10.90" textLength="17.51" lengthAdjust="spacingAndGlyphs" fill="#000">WT</text>
<text x="460.36" y="242.90" font-size="10.90" textLength="49.64" lengthAdjust="spacingAndGlyphs" fill="#000">CCL3–/–</text>
<text transform="translate(364.60,212.50) rotate(-90)" x="-1.13" y="0" font-size="14.54" textLength="131.72" lengthAdjust="spacingAndGlyphs" fill="#000">Proliferation inhibition</text>
<text x="31.38" y="297.70" font-size="12.35" textLength="26.20" lengthAdjust="spacingAndGlyphs" fill="#000">BMT</text>
<text x="68.99" y="278.60" font-size="11.77" textLength="30.92" lengthAdjust="spacingAndGlyphs" fill="#7e1d3e">DT or</text>
<text x="69.01" y="291.80" font-size="11.77" textLength="59.43" lengthAdjust="spacingAndGlyphs" fill="#7e1d3e">DT (Glu52)</text>
<line x1="48.00" y1="308.40" x2="48.00" y2="339.00" stroke="#000" stroke-width="1.8"/>
<line x1="47.20" y1="323.30" x2="472.80" y2="323.30" stroke="#000" stroke-width="1.9"/>
<line x1="73.40" y1="299.20" x2="73.40" y2="323.30" stroke="#7e1d3e" stroke-width="1.9"/>
<line x1="97.30" y1="299.20" x2="97.30" y2="323.30" stroke="#7e1d3e" stroke-width="1.9"/>
<line x1="120.80" y1="299.20" x2="120.80" y2="323.30" stroke="#7e1d3e" stroke-width="1.9"/>
<text x="49.17" y="320.40" font-size="11.77" textLength="18.91" lengthAdjust="spacingAndGlyphs" fill="#000">0 d</text>
<text x="76.70" y="320.40" font-size="11.77" textLength="19.08" lengthAdjust="spacingAndGlyphs" fill="#7e1d3e">6 d</text>
<text x="101.91" y="310.00" font-size="11.77" textLength="12.98" lengthAdjust="spacingAndGlyphs" fill="#7e1d3e">12</text>
<text x="103.91" y="320.40" font-size="11.77" textLength="9.15" lengthAdjust="spacingAndGlyphs" fill="#7e1d3e">d</text>
<text x="124.43" y="320.40" font-size="11.77" textLength="24.90" lengthAdjust="spacingAndGlyphs" fill="#7e1d3e">18 d</text>
<line x1="146.60" y1="323.30" x2="146.60" y2="363.50" stroke="#7f8499" stroke-width="1.8"/>
<text x="131.30" y="335.40" font-size="11.77" textLength="13.36" lengthAdjust="spacingAndGlyphs" fill="#7f8499">24</text>
<text x="147.86" y="335.40" font-size="11.77" textLength="8.53" lengthAdjust="spacingAndGlyphs" fill="#7f8499">d</text>
<text x="120.76" y="376.40" font-size="11.77" textLength="49.32" lengthAdjust="spacingAndGlyphs" fill="#7f8499">BM HSC</text>
<line x1="105.80" y1="323.30" x2="105.80" y2="345.20" stroke="#000" stroke-width="1.8"/>
<text x="107.86" y="335.70" font-size="11.77" textLength="19.81" lengthAdjust="spacingAndGlyphs" fill="#000">2 w</text>
<text x="96.97" y="357.40" font-size="12.06" textLength="16.69" lengthAdjust="spacingAndGlyphs" fill="#000">PB</text>
<line x1="163.40" y1="323.30" x2="163.40" y2="345.20" stroke="#000" stroke-width="1.8"/>
<text x="165.72" y="335.70" font-size="11.77" textLength="18.85" lengthAdjust="spacingAndGlyphs" fill="#000">4 w</text>
<text x="155.52" y="357.40" font-size="12.06" textLength="15.91" lengthAdjust="spacingAndGlyphs" fill="#000">PB</text>
<line x1="220.30" y1="323.30" x2="220.30" y2="345.20" stroke="#000" stroke-width="1.8"/>
<text x="221.26" y="335.70" font-size="11.77" textLength="19.71" lengthAdjust="spacingAndGlyphs" fill="#000">6 w</text>
<text x="211.93" y="357.40" font-size="12.06" textLength="17.35" lengthAdjust="spacingAndGlyphs" fill="#000">PB</text>
<line x1="279.40" y1="323.30" x2="279.40" y2="345.20" stroke="#000" stroke-width="1.8"/>
<text x="280.46" y="335.70" font-size="11.77" textLength="19.51" lengthAdjust="spacingAndGlyphs" fill="#000">8 w</text>
<text x="270.29" y="357.40" font-size="12.06" textLength="18.13" lengthAdjust="spacingAndGlyphs" fill="#000">PB</text>
<line x1="366.70" y1="323.30" x2="366.70" y2="345.20" stroke="#000" stroke-width="1.8"/>
<text x="367.45" y="335.70" font-size="11.77" textLength="26.22" lengthAdjust="spacingAndGlyphs" fill="#000">12 w</text>
<text x="357.93" y="357.40" font-size="12.06" textLength="17.35" lengthAdjust="spacingAndGlyphs" fill="#000">PB</text>
<line x1="472.20" y1="323.30" x2="472.20" y2="345.20" stroke="#000" stroke-width="1.8"/>
<text x="474.05" y="335.70" font-size="11.77" textLength="26.22" lengthAdjust="spacingAndGlyphs" fill="#000">16 w</text>
<text x="463.55" y="357.40" font-size="12.06" textLength="17.13" lengthAdjust="spacingAndGlyphs" fill="#000">PB</text>
<line x1="84.50" y1="417.20" x2="89.00" y2="417.20" stroke="#000" stroke-width="1.3"/>
<text x="62.46" y="420.50" font-size="11.05" textLength="17.67" lengthAdjust="spacingAndGlyphs" fill="#000">2.5</text>
<line x1="84.50" y1="448.50" x2="89.00" y2="448.50" stroke="#000" stroke-width="1.3"/>
<text x="62.11" y="451.80" font-size="11.05" textLength="18.03" lengthAdjust="spacingAndGlyphs" fill="#000">1.5</text>
<line x1="84.50" y1="481.20" x2="89.00" y2="481.20" stroke="#000" stroke-width="1.3"/>
<text x="62.11" y="484.50" font-size="11.05" textLength="17.99" lengthAdjust="spacingAndGlyphs" fill="#000">1.0</text>
<line x1="84.50" y1="513.30" x2="89.00" y2="513.30" stroke="#000" stroke-width="1.3"/>
<text x="62.61" y="516.60" font-size="11.05" textLength="17.52" lengthAdjust="spacingAndGlyphs" fill="#000">0.5</text>
<line x1="84.50" y1="545.00" x2="89.00" y2="545.00" stroke="#000" stroke-width="1.3"/>
<text x="73.11" y="548.30" font-size="11.05" textLength="6.98" lengthAdjust="spacingAndGlyphs" fill="#000">0</text>
<text x="88.84" y="409.60" font-size="13.81" textLength="87.60" lengthAdjust="spacingAndGlyphs" fill="#000">CD34– KLS+</text>
<rect x="119.00" y="507.90" width="30.40" height="37.10" fill="#d6d6d6"/>
<rect x="163.00" y="472.20" width="30.30" height="72.80" fill="#696969"/>
<line x1="89.00" y1="412.60" x2="89.00" y2="545.60" stroke="#000" stroke-width="1.6"/>
<line x1="88.30" y1="545.00" x2="202.50" y2="545.00" stroke="#000" stroke-width="1.8"/>
<line x1="134.00" y1="503.30" x2="134.00" y2="512.80" stroke="#000" stroke-width="1.6"/>
<line x1="131.90" y1="503.30" x2="136.10" y2="503.30" stroke="#000" stroke-width="1.6"/>
<line x1="131.90" y1="512.80" x2="136.10" y2="512.80" stroke="#000" stroke-width="1.6"/>
<line x1="178.10" y1="449.30" x2="178.10" y2="495.70" stroke="#000" stroke-width="1.6"/>
<line x1="176.00" y1="449.30" x2="180.20" y2="449.30" stroke="#000" stroke-width="1.6"/>
<line x1="176.00" y1="495.70" x2="180.20" y2="495.70" stroke="#000" stroke-width="1.6"/>
<polyline points="134.00,475.40 134.00,432.40 178.30,432.40 178.30,438.50" stroke="#000" stroke-width="1.9" fill="none" />
<polygon points="156.20,421.80 156.83,423.33 158.48,423.46 157.23,424.53 157.61,426.14 156.20,425.28 154.79,426.14 155.17,424.53 153.92,423.46 155.57,423.33" fill="#000"/>
<text transform="translate(54.20,537.50) rotate(-90)" x="-1.11" y="0" font-size="14.97" textLength="116.66" lengthAdjust="spacingAndGlyphs" fill="#000">HSC counts (× 10³)</text>
<line x1="297.50" y1="416.30" x2="302.00" y2="416.30" stroke="#000" stroke-width="1.3"/>
<text x="275.46" y="419.60" font-size="11.05" textLength="17.63" lengthAdjust="spacingAndGlyphs" fill="#000">2.0</text>
<line x1="297.50" y1="448.30" x2="302.00" y2="448.30" stroke="#000" stroke-width="1.3"/>
<text x="275.11" y="451.60" font-size="11.05" textLength="18.03" lengthAdjust="spacingAndGlyphs" fill="#000">1.5</text>
<line x1="297.50" y1="481.30" x2="302.00" y2="481.30" stroke="#000" stroke-width="1.3"/>
<text x="275.11" y="484.60" font-size="11.05" textLength="17.99" lengthAdjust="spacingAndGlyphs" fill="#000">1.0</text>
<line x1="297.50" y1="513.50" x2="302.00" y2="513.50" stroke="#000" stroke-width="1.3"/>
<text x="275.61" y="516.80" font-size="11.05" textLength="17.52" lengthAdjust="spacingAndGlyphs" fill="#000">0.5</text>
<line x1="297.50" y1="545.00" x2="302.00" y2="545.00" stroke="#000" stroke-width="1.3"/>
<text x="286.11" y="548.30" font-size="11.05" textLength="6.98" lengthAdjust="spacingAndGlyphs" fill="#000">0</text>
<text x="301.83" y="409.60" font-size="13.81" textLength="144.31" lengthAdjust="spacingAndGlyphs" fill="#000">CD150+CD48– KLS+</text>
<rect x="331.60" y="528.40" width="31.40" height="16.60" fill="#d6d6d6"/>
<rect x="375.40" y="518.00" width="31.60" height="27.00" fill="#696969"/>
<line x1="302.00" y1="412.60" x2="302.00" y2="545.60" stroke="#000" stroke-width="1.6"/>
<line x1="301.30" y1="545.00" x2="415.80" y2="545.00" stroke="#000" stroke-width="1.8"/>
<line x1="346.90" y1="521.00" x2="346.90" y2="535.80" stroke="#000" stroke-width="1.6"/>
<line x1="344.80" y1="521.00" x2="349.00" y2="521.00" stroke="#000" stroke-width="1.6"/>
<line x1="344.80" y1="535.80" x2="349.00" y2="535.80" stroke="#000" stroke-width="1.6"/>
<line x1="391.10" y1="513.50" x2="391.10" y2="524.20" stroke="#000" stroke-width="1.6"/>
<line x1="389.00" y1="513.50" x2="393.20" y2="513.50" stroke="#000" stroke-width="1.6"/>
<line x1="389.00" y1="524.20" x2="393.20" y2="524.20" stroke="#000" stroke-width="1.6"/>
<polyline points="346.00,505.80 346.00,489.30 391.00,489.30 391.00,497.30" stroke="#000" stroke-width="1.9" fill="none" />
<polygon points="366.50,478.40 367.13,479.93 368.78,480.06 367.53,481.13 367.91,482.74 366.50,481.88 365.09,482.74 365.47,481.13 364.22,480.06 365.87,479.93" fill="#000"/>
<text transform="translate(267.20,537.50) rotate(-90)" x="-1.11" y="0" font-size="14.97" textLength="116.66" lengthAdjust="spacingAndGlyphs" fill="#000">HSC counts (× 10³)</text>
<text x="124.34" y="561.20" font-size="11.92" textLength="15.63" lengthAdjust="spacingAndGlyphs" fill="#000">DT</text>
<text x="111.21" y="575.40" font-size="11.92" textLength="42.27" lengthAdjust="spacingAndGlyphs" fill="#000">(Glu52)</text>
<text x="169.40" y="561.20" font-size="11.92" textLength="16.28" lengthAdjust="spacingAndGlyphs" fill="#000">DT</text>
<text x="338.59" y="561.20" font-size="11.92" textLength="16.39" lengthAdjust="spacingAndGlyphs" fill="#000">DT</text>
<text x="325.51" y="575.60" font-size="11.92" textLength="42.58" lengthAdjust="spacingAndGlyphs" fill="#000">(Glu52)</text>
<text x="382.78" y="561.20" font-size="11.92" textLength="16.50" lengthAdjust="spacingAndGlyphs" fill="#000">DT</text>
<line x1="65.50" y1="606.50" x2="65.50" y2="739.40" stroke="#000" stroke-width="1.7"/>
<line x1="60.70" y1="738.80" x2="256.50" y2="738.80" stroke="#000" stroke-width="1.8"/>
<line x1="60.70" y1="611.20" x2="65.50" y2="611.20" stroke="#000" stroke-width="1.3"/>
<text x="42.03" y="615.10" font-size="11.48" textLength="14.79" lengthAdjust="spacingAndGlyphs" fill="#000">20</text>
<line x1="60.70" y1="642.70" x2="65.50" y2="642.70" stroke="#000" stroke-width="1.3"/>
<text x="41.66" y="646.60" font-size="11.48" textLength="15.22" lengthAdjust="spacingAndGlyphs" fill="#000">15</text>
<line x1="60.70" y1="675.00" x2="65.50" y2="675.00" stroke="#000" stroke-width="1.3"/>
<text x="41.66" y="678.90" font-size="11.48" textLength="15.17" lengthAdjust="spacingAndGlyphs" fill="#000">10</text>
<line x1="60.70" y1="706.90" x2="65.50" y2="706.90" stroke="#000" stroke-width="1.3"/>
<text x="49.79" y="710.80" font-size="11.48" textLength="7.04" lengthAdjust="spacingAndGlyphs" fill="#000">5</text>
<line x1="60.70" y1="738.80" x2="65.50" y2="738.80" stroke="#000" stroke-width="1.3"/>
<text x="49.81" y="742.70" font-size="11.48" textLength="6.98" lengthAdjust="spacingAndGlyphs" fill="#000">0</text>
<line x1="78.30" y1="703.00" x2="78.30" y2="692.00" stroke="#000" stroke-width="1.6"/>
<line x1="76.50" y1="692.00" x2="80.10" y2="692.00" stroke="#000" stroke-width="1.6"/>
<line x1="102.30" y1="678.70" x2="102.30" y2="664.60" stroke="#000" stroke-width="1.6"/>
<line x1="100.50" y1="664.60" x2="104.10" y2="664.60" stroke="#000" stroke-width="1.6"/>
<line x1="126.30" y1="674.40" x2="126.30" y2="657.70" stroke="#000" stroke-width="1.6"/>
<line x1="124.50" y1="657.70" x2="128.10" y2="657.70" stroke="#000" stroke-width="1.6"/>
<line x1="150.40" y1="679.60" x2="150.40" y2="667.00" stroke="#000" stroke-width="1.6"/>
<line x1="148.60" y1="667.00" x2="152.20" y2="667.00" stroke="#000" stroke-width="1.6"/>
<line x1="198.60" y1="671.20" x2="198.60" y2="654.60" stroke="#000" stroke-width="1.6"/>
<line x1="196.80" y1="654.60" x2="200.40" y2="654.60" stroke="#000" stroke-width="1.6"/>
<line x1="246.60" y1="660.40" x2="246.60" y2="647.20" stroke="#000" stroke-width="1.6"/>
<line x1="244.80" y1="647.20" x2="248.40" y2="647.20" stroke="#000" stroke-width="1.6"/>
<line x1="78.30" y1="712.00" x2="78.30" y2="718.50" stroke="#000" stroke-width="1.6"/>
<line x1="76.50" y1="718.50" x2="80.10" y2="718.50" stroke="#000" stroke-width="1.6"/>
<line x1="102.30" y1="697.00" x2="102.30" y2="710.80" stroke="#000" stroke-width="1.6"/>
<line x1="100.50" y1="710.80" x2="104.10" y2="710.80" stroke="#000" stroke-width="1.6"/>
<line x1="126.30" y1="695.60" x2="126.30" y2="702.70" stroke="#000" stroke-width="1.6"/>
<line x1="124.50" y1="702.70" x2="128.10" y2="702.70" stroke="#000" stroke-width="1.6"/>
<line x1="150.40" y1="706.20" x2="150.40" y2="717.70" stroke="#000" stroke-width="1.6"/>
<line x1="148.60" y1="717.70" x2="152.20" y2="717.70" stroke="#000" stroke-width="1.6"/>
<line x1="198.60" y1="694.50" x2="198.60" y2="700.80" stroke="#000" stroke-width="1.6"/>
<line x1="196.80" y1="700.80" x2="200.40" y2="700.80" stroke="#000" stroke-width="1.6"/>
<line x1="246.60" y1="682.30" x2="246.60" y2="688.80" stroke="#000" stroke-width="1.6"/>
<line x1="244.80" y1="688.80" x2="248.40" y2="688.80" stroke="#000" stroke-width="1.6"/>
<polyline points="78.30,712.00 102.30,697.00 126.30,695.60 150.40,706.20 198.60,694.50 246.60,682.30" stroke="#000" stroke-width="2.1" fill="none" stroke-linejoin="round"/>
<polyline points="78.30,703.00 102.30,678.70 126.30,674.40 150.40,679.60 198.60,671.20 246.60,660.40" stroke="#000" stroke-width="2.1" fill="none" stroke-linejoin="round"/>
<circle cx="78.30" cy="712.00" r="3.3" fill="#dcdcdc" stroke="#000" stroke-width="1.45"/>
<circle cx="102.30" cy="697.00" r="3.3" fill="#dcdcdc" stroke="#000" stroke-width="1.45"/>
<circle cx="126.30" cy="695.60" r="3.3" fill="#dcdcdc" stroke="#000" stroke-width="1.45"/>
<circle cx="150.40" cy="706.20" r="3.3" fill="#dcdcdc" stroke="#000" stroke-width="1.45"/>
<circle cx="198.60" cy="694.50" r="3.3" fill="#dcdcdc" stroke="#000" stroke-width="1.45"/>
<circle cx="246.60" cy="682.30" r="3.3" fill="#dcdcdc" stroke="#000" stroke-width="1.45"/>
<circle cx="78.30" cy="703.00" r="3.3" fill="#5e5e5e" stroke="#000" stroke-width="1.45"/>
<circle cx="102.30" cy="678.70" r="3.3" fill="#5e5e5e" stroke="#000" stroke-width="1.45"/>
<circle cx="126.30" cy="674.40" r="3.3" fill="#5e5e5e" stroke="#000" stroke-width="1.45"/>
<circle cx="150.40" cy="679.60" r="3.3" fill="#5e5e5e" stroke="#000" stroke-width="1.45"/>
<circle cx="198.60" cy="671.20" r="3.3" fill="#5e5e5e" stroke="#000" stroke-width="1.45"/>
<circle cx="246.60" cy="660.40" r="3.3" fill="#5e5e5e" stroke="#000" stroke-width="1.45"/>
<polygon points="78.30,674.70 78.99,676.35 80.77,676.50 79.41,677.66 79.83,679.40 78.30,678.47 76.77,679.40 77.19,677.66 75.83,676.50 77.61,676.35" fill="#000"/>
<polygon points="102.30,649.10 102.99,650.75 104.77,650.90 103.41,652.06 103.83,653.80 102.30,652.87 100.77,653.80 101.19,652.06 99.83,650.90 101.61,650.75" fill="#000"/>
<polygon points="126.30,642.00 126.99,643.65 128.77,643.80 127.41,644.96 127.83,646.70 126.30,645.77 124.77,646.70 125.19,644.96 123.83,643.80 125.61,643.65" fill="#000"/>
<polygon points="147.30,649.10 147.99,650.75 149.77,650.90 148.41,652.06 148.83,653.80 147.30,652.87 145.77,653.80 146.19,652.06 144.83,650.90 146.61,650.75" fill="#000"/>
<polygon points="153.50,649.10 154.19,650.75 155.97,650.90 154.61,652.06 155.03,653.80 153.50,652.87 151.97,653.80 152.39,652.06 151.03,650.90 152.81,650.75" fill="#000"/>
<polygon points="195.50,640.90 196.19,642.55 197.97,642.70 196.61,643.86 197.03,645.60 195.50,644.67 193.97,645.60 194.39,643.86 193.03,642.70 194.81,642.55" fill="#000"/>
<polygon points="201.70,640.90 202.39,642.55 204.17,642.70 202.81,643.86 203.23,645.60 201.70,644.67 200.17,645.60 200.59,643.86 199.23,642.70 201.01,642.55" fill="#000"/>
<polygon points="243.50,629.40 244.19,631.05 245.97,631.20 244.61,632.36 245.03,634.10 243.50,633.17 241.97,634.10 242.39,632.36 241.03,631.20 242.81,631.05" fill="#000"/>
<polygon points="249.70,629.40 250.39,631.05 252.17,631.20 250.81,632.36 251.23,634.10 249.70,633.17 248.17,634.10 248.59,632.36 247.23,631.20 249.01,631.05" fill="#000"/>
<text x="74.39" y="754.70" font-size="12.35" textLength="7.81" lengthAdjust="spacingAndGlyphs" fill="#000">2</text>
<text x="98.81" y="754.70" font-size="12.35" textLength="7.06" lengthAdjust="spacingAndGlyphs" fill="#000">4</text>
<text x="122.40" y="754.70" font-size="12.35" textLength="7.71" lengthAdjust="spacingAndGlyphs" fill="#000">6</text>
<text x="146.61" y="754.70" font-size="12.35" textLength="7.59" lengthAdjust="spacingAndGlyphs" fill="#000">8</text>
<text x="191.73" y="754.70" font-size="12.35" textLength="13.43" lengthAdjust="spacingAndGlyphs" fill="#000">12</text>
<text x="239.74" y="754.70" font-size="12.35" textLength="13.34" lengthAdjust="spacingAndGlyphs" fill="#000">16</text>
<text x="70.67" y="608.40" font-size="14.83" textLength="109.07" lengthAdjust="spacingAndGlyphs" fill="#000">Total donor cells</text>
<text transform="translate(34.30,741.70) rotate(-90)" x="-0.70" y="0" font-size="15.41" textLength="135.96" lengthAdjust="spacingAndGlyphs" fill="#000">Cell counts (× 10³ / µl)</text>
<text x="166.16" y="659.20" font-size="12.06" textLength="16.83" lengthAdjust="spacingAndGlyphs" fill="#000">DT</text>
<text x="187.47" y="715.30" font-size="12.06" textLength="61.80" lengthAdjust="spacingAndGlyphs" fill="#000">DT (Glu52)</text>
<text x="112.94" y="774.60" font-size="15.99" textLength="99.15" lengthAdjust="spacingAndGlyphs" fill="#000">Weeks after BMT</text>
<line x1="315.40" y1="607.30" x2="315.40" y2="739.40" stroke="#000" stroke-width="1.7"/>
<line x1="310.60" y1="738.80" x2="506.00" y2="738.80" stroke="#000" stroke-width="1.8"/>
<line x1="310.60" y1="611.00" x2="315.40" y2="611.00" stroke="#000" stroke-width="1.3"/>
<text x="292.56" y="614.90" font-size="11.48" textLength="15.22" lengthAdjust="spacingAndGlyphs" fill="#000">15</text>
<line x1="310.60" y1="654.00" x2="315.40" y2="654.00" stroke="#000" stroke-width="1.3"/>
<text x="292.56" y="657.90" font-size="11.48" textLength="15.17" lengthAdjust="spacingAndGlyphs" fill="#000">10</text>
<line x1="310.60" y1="696.50" x2="315.40" y2="696.50" stroke="#000" stroke-width="1.3"/>
<text x="300.69" y="700.40" font-size="11.48" textLength="7.04" lengthAdjust="spacingAndGlyphs" fill="#000">5</text>
<line x1="310.60" y1="738.80" x2="315.40" y2="738.80" stroke="#000" stroke-width="1.3"/>
<text x="300.71" y="742.70" font-size="11.48" textLength="6.98" lengthAdjust="spacingAndGlyphs" fill="#000">0</text>
<line x1="327.60" y1="717.40" x2="327.60" y2="709.30" stroke="#000" stroke-width="1.6"/>
<line x1="325.80" y1="709.30" x2="329.40" y2="709.30" stroke="#000" stroke-width="1.6"/>
<line x1="351.90" y1="685.80" x2="351.90" y2="672.40" stroke="#000" stroke-width="1.6"/>
<line x1="350.10" y1="672.40" x2="353.70" y2="672.40" stroke="#000" stroke-width="1.6"/>
<line x1="376.10" y1="678.90" x2="376.10" y2="662.70" stroke="#000" stroke-width="1.6"/>
<line x1="374.30" y1="662.70" x2="377.90" y2="662.70" stroke="#000" stroke-width="1.6"/>
<line x1="400.20" y1="682.70" x2="400.20" y2="667.90" stroke="#000" stroke-width="1.6"/>
<line x1="398.40" y1="667.90" x2="402.00" y2="667.90" stroke="#000" stroke-width="1.6"/>
<line x1="448.10" y1="672.70" x2="448.10" y2="653.30" stroke="#000" stroke-width="1.6"/>
<line x1="446.30" y1="653.30" x2="449.90" y2="653.30" stroke="#000" stroke-width="1.6"/>
<line x1="496.50" y1="663.50" x2="496.50" y2="646.30" stroke="#000" stroke-width="1.6"/>
<line x1="494.70" y1="646.30" x2="498.30" y2="646.30" stroke="#000" stroke-width="1.6"/>
<line x1="327.60" y1="725.00" x2="327.60" y2="730.00" stroke="#000" stroke-width="1.6"/>
<line x1="325.80" y1="730.00" x2="329.40" y2="730.00" stroke="#000" stroke-width="1.6"/>
<line x1="351.90" y1="701.50" x2="351.90" y2="714.60" stroke="#000" stroke-width="1.6"/>
<line x1="350.10" y1="714.60" x2="353.70" y2="714.60" stroke="#000" stroke-width="1.6"/>
<line x1="376.10" y1="699.00" x2="376.10" y2="707.20" stroke="#000" stroke-width="1.6"/>
<line x1="374.30" y1="707.20" x2="377.90" y2="707.20" stroke="#000" stroke-width="1.6"/>
<line x1="400.20" y1="707.70" x2="400.20" y2="719.80" stroke="#000" stroke-width="1.6"/>
<line x1="398.40" y1="719.80" x2="402.00" y2="719.80" stroke="#000" stroke-width="1.6"/>
<line x1="448.10" y1="695.00" x2="448.10" y2="702.90" stroke="#000" stroke-width="1.6"/>
<line x1="446.30" y1="702.90" x2="449.90" y2="702.90" stroke="#000" stroke-width="1.6"/>
<line x1="496.50" y1="684.00" x2="496.50" y2="691.50" stroke="#000" stroke-width="1.6"/>
<line x1="494.70" y1="691.50" x2="498.30" y2="691.50" stroke="#000" stroke-width="1.6"/>
<polyline points="327.60,725.00 351.90,701.50 376.10,699.00 400.20,707.70 448.10,695.00 496.50,684.00" stroke="#000" stroke-width="2.1" fill="none" stroke-linejoin="round"/>
<polyline points="327.60,717.40 351.90,685.80 376.10,678.90 400.20,682.70 448.10,672.70 496.50,663.50" stroke="#000" stroke-width="2.1" fill="none" stroke-linejoin="round"/>
<circle cx="327.60" cy="725.00" r="3.3" fill="#dcdcdc" stroke="#000" stroke-width="1.45"/>
<circle cx="351.90" cy="701.50" r="3.3" fill="#dcdcdc" stroke="#000" stroke-width="1.45"/>
<circle cx="376.10" cy="699.00" r="3.3" fill="#dcdcdc" stroke="#000" stroke-width="1.45"/>
<circle cx="400.20" cy="707.70" r="3.3" fill="#dcdcdc" stroke="#000" stroke-width="1.45"/>
<circle cx="448.10" cy="695.00" r="3.3" fill="#dcdcdc" stroke="#000" stroke-width="1.45"/>
<circle cx="496.50" cy="684.00" r="3.3" fill="#dcdcdc" stroke="#000" stroke-width="1.45"/>
<circle cx="327.60" cy="717.40" r="3.3" fill="#5e5e5e" stroke="#000" stroke-width="1.45"/>
<circle cx="351.90" cy="685.80" r="3.3" fill="#5e5e5e" stroke="#000" stroke-width="1.45"/>
<circle cx="376.10" cy="678.90" r="3.3" fill="#5e5e5e" stroke="#000" stroke-width="1.45"/>
<circle cx="400.20" cy="682.70" r="3.3" fill="#5e5e5e" stroke="#000" stroke-width="1.45"/>
<circle cx="448.10" cy="672.70" r="3.3" fill="#5e5e5e" stroke="#000" stroke-width="1.45"/>
<circle cx="496.50" cy="663.50" r="3.3" fill="#5e5e5e" stroke="#000" stroke-width="1.45"/>
<polygon points="327.60,695.90 328.29,697.55 330.07,697.70 328.71,698.86 329.13,700.60 327.60,699.67 326.07,700.60 326.49,698.86 325.13,697.70 326.91,697.55" fill="#000"/>
<polygon points="351.90,657.80 352.59,659.45 354.37,659.60 353.01,660.76 353.43,662.50 351.90,661.57 350.37,662.50 350.79,660.76 349.43,659.60 351.21,659.45" fill="#000"/>
<polygon points="376.10,647.90 376.79,649.55 378.57,649.70 377.21,650.86 377.63,652.60 376.10,651.67 374.57,652.60 374.99,650.86 373.63,649.70 375.41,649.55" fill="#000"/>
<polygon points="397.10,653.90 397.79,655.55 399.57,655.70 398.21,656.86 398.63,658.60 397.10,657.67 395.57,658.60 395.99,656.86 394.63,655.70 396.41,655.55" fill="#000"/>
<polygon points="403.30,653.90 403.99,655.55 405.77,655.70 404.41,656.86 404.83,658.60 403.30,657.67 401.77,658.60 402.19,656.86 400.83,655.70 402.61,655.55" fill="#000"/>
<polygon points="445.00,637.20 445.69,638.85 447.47,639.00 446.11,640.16 446.53,641.90 445.00,640.97 443.47,641.90 443.89,640.16 442.53,639.00 444.31,638.85" fill="#000"/>
<polygon points="451.20,637.20 451.89,638.85 453.67,639.00 452.31,640.16 452.73,641.90 451.20,640.97 449.67,641.90 450.09,640.16 448.73,639.00 450.51,638.85" fill="#000"/>
<polygon points="493.40,629.70 494.09,631.35 495.87,631.50 494.51,632.66 494.93,634.40 493.40,633.47 491.87,634.40 492.29,632.66 490.93,631.50 492.71,631.35" fill="#000"/>
<polygon points="499.60,629.70 500.29,631.35 502.07,631.50 500.71,632.66 501.13,634.40 499.60,633.47 498.07,634.40 498.49,632.66 497.13,631.50 498.91,631.35" fill="#000"/>
<text x="323.69" y="754.70" font-size="12.35" textLength="7.81" lengthAdjust="spacingAndGlyphs" fill="#000">2</text>
<text x="348.41" y="754.70" font-size="12.35" textLength="7.06" lengthAdjust="spacingAndGlyphs" fill="#000">4</text>
<text x="372.20" y="754.70" font-size="12.35" textLength="7.71" lengthAdjust="spacingAndGlyphs" fill="#000">6</text>
<text x="396.41" y="754.70" font-size="12.35" textLength="7.59" lengthAdjust="spacingAndGlyphs" fill="#000">8</text>
<text x="441.23" y="754.70" font-size="12.35" textLength="13.43" lengthAdjust="spacingAndGlyphs" fill="#000">12</text>
<text x="489.64" y="754.70" font-size="12.35" textLength="13.34" lengthAdjust="spacingAndGlyphs" fill="#000">16</text>
<text x="319.95" y="608.90" font-size="14.97" textLength="44.90" lengthAdjust="spacingAndGlyphs" fill="#000">B cells</text>
<text transform="translate(283.80,740.80) rotate(-90)" x="-0.69" y="0" font-size="15.41" textLength="133.94" lengthAdjust="spacingAndGlyphs" fill="#000">Cell counts (× 10³ / µl)</text>
<text x="362.44" y="774.40" font-size="15.99" textLength="102.86" lengthAdjust="spacingAndGlyphs" fill="#000">Weeks after BMT</text>
<line x1="65.20" y1="803.80" x2="65.20" y2="936.40" stroke="#000" stroke-width="1.7"/>
<line x1="60.40" y1="935.80" x2="260.00" y2="935.80" stroke="#000" stroke-width="1.8"/>
<line x1="60.40" y1="808.50" x2="65.20" y2="808.50" stroke="#000" stroke-width="1.3"/>
<text x="49.84" y="812.40" font-size="11.48" textLength="7.32" lengthAdjust="spacingAndGlyphs" fill="#000">2</text>
<line x1="60.40" y1="840.40" x2="65.20" y2="840.40" stroke="#000" stroke-width="1.3"/>
<line x1="60.40" y1="872.20" x2="65.20" y2="872.20" stroke="#000" stroke-width="1.3"/>
<text x="49.44" y="876.10" font-size="11.48" textLength="7.74" lengthAdjust="spacingAndGlyphs" fill="#000">1</text>
<line x1="60.40" y1="904.30" x2="65.20" y2="904.30" stroke="#000" stroke-width="1.3"/>
<line x1="60.40" y1="935.80" x2="65.20" y2="935.80" stroke="#000" stroke-width="1.3"/>
<text x="50.01" y="939.70" font-size="11.48" textLength="6.98" lengthAdjust="spacingAndGlyphs" fill="#000">0</text>
<line x1="78.30" y1="849.50" x2="78.30" y2="868.50" stroke="#000" stroke-width="1.6"/>
<line x1="76.50" y1="868.50" x2="80.10" y2="868.50" stroke="#000" stroke-width="1.6"/>
<line x1="103.50" y1="863.40" x2="103.50" y2="832.70" stroke="#000" stroke-width="1.6"/>
<line x1="101.70" y1="832.70" x2="105.30" y2="832.70" stroke="#000" stroke-width="1.6"/>
<line x1="128.40" y1="868.00" x2="128.40" y2="841.20" stroke="#000" stroke-width="1.6"/>
<line x1="126.60" y1="841.20" x2="130.20" y2="841.20" stroke="#000" stroke-width="1.6"/>
<line x1="153.10" y1="871.20" x2="153.10" y2="856.20" stroke="#000" stroke-width="1.6"/>
<line x1="151.30" y1="856.20" x2="154.90" y2="856.20" stroke="#000" stroke-width="1.6"/>
<line x1="203.50" y1="871.20" x2="203.50" y2="848.20" stroke="#000" stroke-width="1.6"/>
<line x1="201.70" y1="848.20" x2="205.30" y2="848.20" stroke="#000" stroke-width="1.6"/>
<line x1="253.10" y1="843.00" x2="253.10" y2="826.20" stroke="#000" stroke-width="1.6"/>
<line x1="251.30" y1="826.20" x2="254.90" y2="826.20" stroke="#000" stroke-width="1.6"/>
<line x1="78.30" y1="842.50" x2="78.30" y2="838.50" stroke="#000" stroke-width="1.6"/>
<line x1="76.50" y1="838.50" x2="80.10" y2="838.50" stroke="#000" stroke-width="1.6"/>
<line x1="103.50" y1="873.00" x2="103.50" y2="898.90" stroke="#000" stroke-width="1.6"/>
<line x1="101.70" y1="898.90" x2="105.30" y2="898.90" stroke="#000" stroke-width="1.6"/>
<line x1="128.40" y1="890.40" x2="128.40" y2="900.00" stroke="#000" stroke-width="1.6"/>
<line x1="126.60" y1="900.00" x2="130.20" y2="900.00" stroke="#000" stroke-width="1.6"/>
<line x1="153.10" y1="907.70" x2="153.10" y2="918.10" stroke="#000" stroke-width="1.6"/>
<line x1="151.30" y1="918.10" x2="154.90" y2="918.10" stroke="#000" stroke-width="1.6"/>
<line x1="203.50" y1="893.90" x2="203.50" y2="903.80" stroke="#000" stroke-width="1.6"/>
<line x1="201.70" y1="903.80" x2="205.30" y2="903.80" stroke="#000" stroke-width="1.6"/>
<line x1="253.10" y1="874.70" x2="253.10" y2="888.10" stroke="#000" stroke-width="1.6"/>
<line x1="251.30" y1="888.10" x2="254.90" y2="888.10" stroke="#000" stroke-width="1.6"/>
<polyline points="78.30,842.50 103.50,873.00 128.40,890.40 153.10,907.70 203.50,893.90 253.10,874.70" stroke="#000" stroke-width="2.1" fill="none" stroke-linejoin="round"/>
<polyline points="78.30,849.50 103.50,863.40 128.40,868.00 153.10,871.20 203.50,871.20 253.10,843.00" stroke="#000" stroke-width="2.1" fill="none" stroke-linejoin="round"/>
<circle cx="78.30" cy="842.50" r="3.3" fill="#dcdcdc" stroke="#000" stroke-width="1.45"/>
<circle cx="103.50" cy="873.00" r="3.3" fill="#dcdcdc" stroke="#000" stroke-width="1.45"/>
<circle cx="128.40" cy="890.40" r="3.3" fill="#dcdcdc" stroke="#000" stroke-width="1.45"/>
<circle cx="153.10" cy="907.70" r="3.3" fill="#dcdcdc" stroke="#000" stroke-width="1.45"/>
<circle cx="203.50" cy="893.90" r="3.3" fill="#dcdcdc" stroke="#000" stroke-width="1.45"/>
<circle cx="253.10" cy="874.70" r="3.3" fill="#dcdcdc" stroke="#000" stroke-width="1.45"/>
<circle cx="78.30" cy="849.50" r="3.3" fill="#5e5e5e" stroke="#000" stroke-width="1.45"/>
<circle cx="103.50" cy="863.40" r="3.3" fill="#5e5e5e" stroke="#000" stroke-width="1.45"/>
<circle cx="128.40" cy="868.00" r="3.3" fill="#5e5e5e" stroke="#000" stroke-width="1.45"/>
<circle cx="153.10" cy="871.20" r="3.3" fill="#5e5e5e" stroke="#000" stroke-width="1.45"/>
<circle cx="203.50" cy="871.20" r="3.3" fill="#5e5e5e" stroke="#000" stroke-width="1.45"/>
<circle cx="253.10" cy="843.00" r="3.3" fill="#5e5e5e" stroke="#000" stroke-width="1.45"/>
<polygon points="128.40,823.20 129.09,824.85 130.87,825.00 129.51,826.16 129.93,827.90 128.40,826.97 126.87,827.90 127.29,826.16 125.93,825.00 127.71,824.85" fill="#000"/>
<polygon points="150.00,833.10 150.69,834.75 152.47,834.90 151.11,836.06 151.53,837.80 150.00,836.87 148.47,837.80 148.89,836.06 147.53,834.90 149.31,834.75" fill="#000"/>
<polygon points="156.20,833.10 156.89,834.75 158.67,834.90 157.31,836.06 157.73,837.80 156.20,836.87 154.67,837.80 155.09,836.06 153.73,834.90 155.51,834.75" fill="#000"/>
<polygon points="203.50,826.20 204.19,827.85 205.97,828.00 204.61,829.16 205.03,830.90 203.50,829.97 201.97,830.90 202.39,829.16 201.03,828.00 202.81,827.85" fill="#000"/>
<polygon points="250.00,805.90 250.69,807.55 252.47,807.70 251.11,808.86 251.53,810.60 250.00,809.67 248.47,810.60 248.89,808.86 247.53,807.70 249.31,807.55" fill="#000"/>
<polygon points="256.20,805.90 256.89,807.55 258.67,807.70 257.31,808.86 257.73,810.60 256.20,809.67 254.67,810.60 255.09,808.86 253.73,807.70 255.51,807.55" fill="#000"/>
<text x="74.39" y="951.70" font-size="12.35" textLength="7.81" lengthAdjust="spacingAndGlyphs" fill="#000">2</text>
<text x="100.01" y="951.70" font-size="12.35" textLength="7.06" lengthAdjust="spacingAndGlyphs" fill="#000">4</text>
<text x="124.50" y="951.70" font-size="12.35" textLength="7.71" lengthAdjust="spacingAndGlyphs" fill="#000">6</text>
<text x="149.31" y="951.70" font-size="12.35" textLength="7.59" lengthAdjust="spacingAndGlyphs" fill="#000">8</text>
<text x="196.63" y="951.70" font-size="12.35" textLength="13.43" lengthAdjust="spacingAndGlyphs" fill="#000">12</text>
<text x="246.24" y="951.70" font-size="12.35" textLength="13.34" lengthAdjust="spacingAndGlyphs" fill="#000">16</text>
<text x="70.45" y="804.20" font-size="14.97" textLength="87.79" lengthAdjust="spacingAndGlyphs" fill="#000">Granulocytes</text>
<text transform="translate(40.80,938.90) rotate(-90)" x="-0.70" y="0" font-size="15.41" textLength="136.16" lengthAdjust="spacingAndGlyphs" fill="#000">Cell counts (× 10³ / µl)</text>
<text x="67.60" y="830.60" font-size="10.76" textLength="23.71" lengthAdjust="spacingAndGlyphs" fill="#000">N.S.</text>
<text x="91.53" y="822.80" font-size="10.76" textLength="23.05" lengthAdjust="spacingAndGlyphs" fill="#000">N.S.</text>
<text x="112.94" y="972.30" font-size="15.99" textLength="99.65" lengthAdjust="spacingAndGlyphs" fill="#000">Weeks after BMT</text>
</svg>
</body></html>
